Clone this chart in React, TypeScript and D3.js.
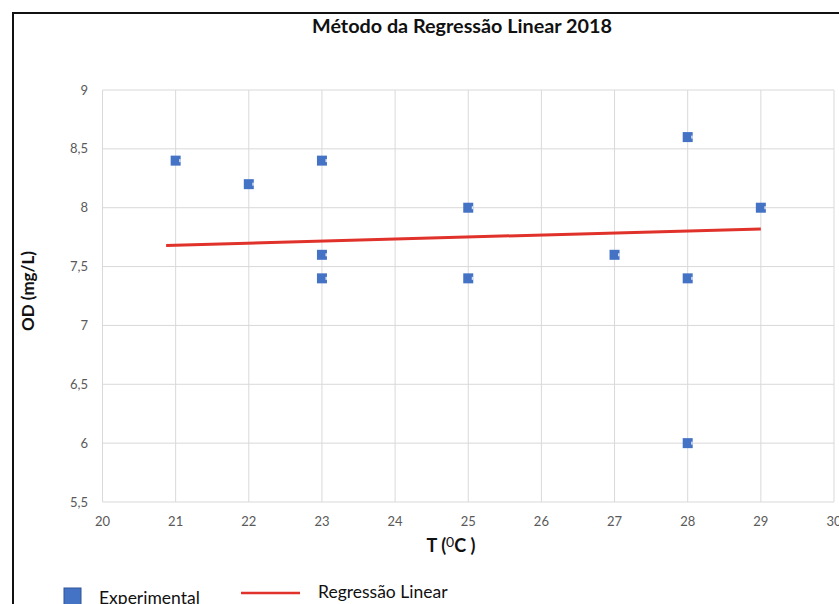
import React from "react";
import * as d3 from "d3";

// Measured dissolved oxygen (OD) vs. water temperature
const temps = [21, 22, 23, 23, 23, 25, 25, 27, 28, 28, 28, 29];
const odValues = [8.4, 8.2, 8.4, 7.6, 7.4, 8.0, 7.4, 7.6, 8.6, 7.4, 6.0, 8.0];

// Fitted regression line endpoints (T, OD)
const fitT = [20.87, 29];
const fitOD = [7.68, 7.82];

const xTicks = [20, 21, 22, 23, 24, 25, 26, 27, 28, 29, 30];
const yTicks = [5.5, 6, 6.5, 7, 7.5, 8, 8.5, 9];

const W = 839;
const H = 604;
const font = "Lato, 'Open Sans', sans-serif";

export default function App() {
  const x = d3.scaleLinear().domain([20, 30]).range([102.5, 834]);
  const y = d3.scaleLinear().domain([5.5, 9]).range([502, 90]);
  const fmt = (v: number) => String(v).replace(".", ",");
  const line = d3
    .line<number>()
    .x((_, i) => x(fitT[i]))
    .y((d) => y(d));

  return (
    <svg
      width={W}
      height={H}
      style={{ position: "absolute", left: 0, top: 0, background: "#fff" }}
      fontFamily={font}
    >
      <rect x={0} y={0} width={W} height={H} fill="#fff" />
      {/* chart frame */}
      <path d={`M13,${H + 5}V13H${W + 5}`} fill="none" stroke="#111" strokeWidth={2} />

      <text
        x={312}
        y={33}
        fontSize={18.5}
        fontWeight={700}
        fill="#111"
        textLength={300}
        lengthAdjust="spacingAndGlyphs"
      >
        Método da Regressão Linear 2018
      </text>

      {/* grid */}
      {xTicks.map((t) => (
        <line key={"gx" + t} x1={x(t)} x2={x(t)} y1={y(9)} y2={y(5.5)} stroke="#d9d9d9" strokeWidth={1} />
      ))}
      {yTicks.map((t) => (
        <line key={"gy" + t} x1={x(20)} x2={x(30)} y1={y(t)} y2={y(t)} stroke="#d9d9d9" strokeWidth={1} />
      ))}

      {/* tick labels */}
      {yTicks.map((t) => (
        <text key={"ty" + t} x={88} y={y(t) + 4.5} textAnchor="end" fontSize={13} fill="#595959">
          {fmt(t)}
        </text>
      ))}
      {xTicks.map((t) => (
        <text key={"tx" + t} x={x(t)} y={526} textAnchor="middle" fontSize={13} fill="#595959">
          {t}
        </text>
      ))}

      {/* axis titles */}
      <text
        transform={`translate(34,${291}) rotate(-90)`}
        textAnchor="middle"
        fontSize={17}
        fontWeight={700}
        fill="#111"
      >
        OD (mg/L)
      </text>
      <text x={451} y={552} textAnchor="middle" fontSize={18} fontWeight={700} fill="#111">
        T (<tspan dy={-5} fontSize={14} fontWeight={400}>0</tspan>
        <tspan dy={5}>C )</tspan>
      </text>

      {/* regression line */}
      <path d={line(fitOD) || ""} fill="none" stroke="#e0322a" strokeWidth={3} />

      {/* observations */}
      {temps.map((t, i) => (
        <g key={"p" + i} transform={`translate(${x(t)},${y(odValues[i])})`}>
          <rect x={-5} y={-5} width={10} height={10} fill="#4472c4" />
          <rect x={3.5} y={-1.5} width={1.5} height={3} fill="#fff" opacity={0.8} />
        </g>
      ))}

      {/* legend */}
      <rect x={64} y={588} width={17} height={17} fill="#4472c4" stroke="#2f5597" strokeWidth={1} />
      <text x={99} y={604} fontSize={17.5} fill="#111">Experimental</text>
      <line x1={241} x2={300} y1={593} y2={593} stroke="#e0322a" strokeWidth={2.5} />
      <text x={318} y={598} fontSize={17.5} fill="#111">Regressão Linear</text>
    </svg>
  );
}
